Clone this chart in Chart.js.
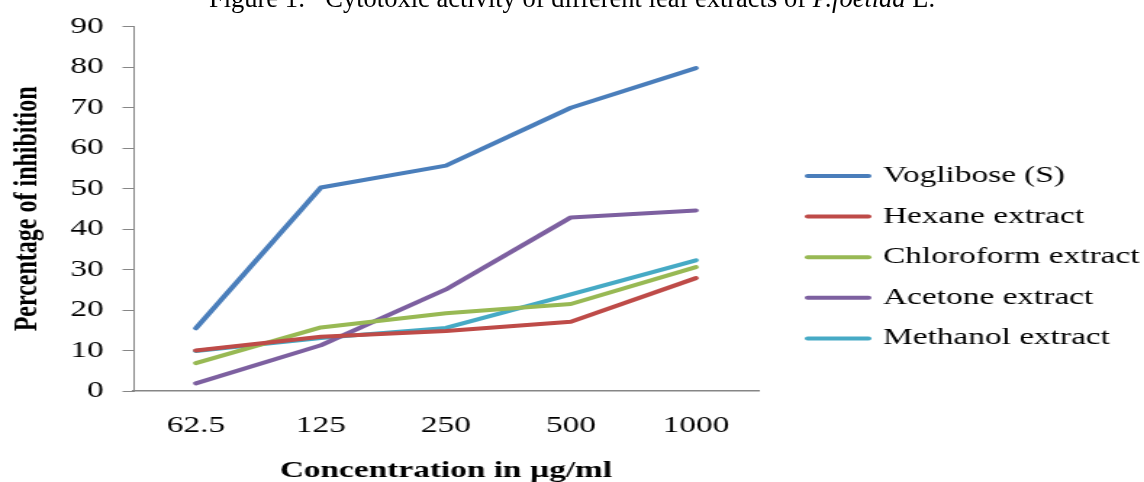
<!DOCTYPE html>
<html lang="en">
<head>
  <meta charset="UTF-8">
  <title>Cytotoxic activity of leaf extracts</title>
  <script src="https://cdn.jsdelivr.net/npm/chart.js"></script>
  <style>
    body {
      margin: 0;
      background: #fff;
    }
    #wrap {
      position: relative;
      width: 1144px;
      height: 482px;
      overflow: hidden;
      background: #fff;
    }
    /* the original figure is stretched sideways, so the canvas is too */
    #grafico {
      position: absolute;
      left: 0;
      top: 0;
      transform: scaleX(1.45);
      transform-origin: 0 0;
    }
    #caption {
      position: absolute;
      left: 0;
      top: -15px;
      width: 1144px;
      text-align: center;
      font-family: 'Liberation Serif', 'Times New Roman', serif;
      font-size: 26.5px;
      line-height: 26.5px;
      color: #000;
      white-space: pre;
    }
  </style>
</head>
<body>
  <div id="wrap">
    <canvas id="grafico" width="790" height="490"></canvas>
    <div id="caption">Figure 1:   Cytotoxic activity of different leaf extracts of <i>P.foetida</i> L.</div>
  </div>
  <script>
    const concentrations = ['62.5', '125', '250', '500', '1000'];
    const voglibose = [15.5, 50.3, 55.7, 70.0, 79.8];
    const hexane = [10.0, 13.4, 14.8, 17.1, 27.9];
    const chloroform = [6.9, 15.7, 19.2, 21.5, 30.6];
    const acetone = [1.9, 11.3, 25.1, 42.9, 44.6];
    const methanol = [9.9, 13.1, 15.6, 23.9, 32.3];
    const yTicks = [0, 10, 20, 30, 40, 50, 60, 70, 80, 90];

    const serif = "'Liberation Serif', 'Times New Roman', serif";
    const axisGray = '#868686';

    Chart.defaults.font.family = serif;
    Chart.defaults.color = '#000';

    function serie(label, data, color) {
      return {
        label,
        data,
        borderColor: color,
        backgroundColor: color,
        borderWidth: 4,
        borderCapStyle: 'round',
        borderJoinStyle: 'round',
        pointRadius: 0,
        tension: 0,
        fill: false
      };
    }

    // legend drawn by hand: the built-in one gets squeezed to half the width
    const leyenda = {
      id: 'leyenda',
      afterDraw(chart) {
        const ctx = chart.ctx;
        const x0 = chart.chartArea.right + 34;
        ctx.save();
        ctx.font = '23px ' + serif;
        ctx.textBaseline = 'middle';
        ctx.textAlign = 'left';
        chart.data.datasets.forEach((ds, i) => {
          const y = 176 + i * 40.6;
          ctx.strokeStyle = ds.borderColor;
          ctx.lineWidth = ds.borderWidth;
          ctx.lineCap = 'round';
          ctx.beginPath();
          ctx.moveTo(x0, y);
          ctx.lineTo(x0 + 42, y);
          ctx.stroke();
          ctx.fillStyle = '#000';
          ctx.fillText(ds.label, x0 + 52, y);
        });
        ctx.restore();
      }
    };

    new Chart(document.getElementById('grafico'), {
      type: 'line',
      data: {
        labels: concentrations,
        datasets: [
          serie('Voglibose (S)', voglibose, '#4a7ebb'),
          serie('Hexane extract', hexane, '#be4b48'),
          serie('Chloroform extract', chloroform, '#98b954'),
          serie('Acetone extract', acetone, '#7d60a0'),
          serie('Methanol extract', methanol, '#46aac5')
        ]
      },
      options: {
        responsive: false,
        animation: false,
        layout: { padding: { top: 24, left: 0, right: 267, bottom: 0 } },
        plugins: {
          tooltip: { enabled: false },
          legend: { display: false }
        },
        scales: {
          x: {
            offset: true,
            grid: { display: false, drawTicks: false },
            border: { display: true, color: axisGray, width: 1.5 },
            ticks: { padding: 21, font: { size: 23 }, color: '#000' },
            title: {
              display: true,
              text: 'Concentration in µg/ml',
              font: { size: 23, weight: 'bold' },
              padding: { top: 0, bottom: 5 },
              color: '#000'
            },
            afterFit: s => { s.height = 99; }
          },
          y: {
            min: 0,
            max: 90,
            afterBuildTicks: s => { s.ticks = yTicks.map(v => ({ value: v })); },
            grid: {
              display: true,
              drawOnChartArea: false,
              drawTicks: true,
              tickLength: 7.5,
              color: axisGray
            },
            border: { display: true, color: axisGray, width: 1 },
            ticks: { padding: 13, font: { size: 23 }, color: '#000' },
            title: {
              display: true,
              text: 'Percentage of inhibition',
              font: { size: 24, weight: 'bold' },
              padding: { top: 4, bottom: 0 },
              color: '#000'
            },
            afterFit: s => { s.width = 92; }
          }
        }
      },
      plugins: [leyenda]
    });
  </script>
</body>
</html>
